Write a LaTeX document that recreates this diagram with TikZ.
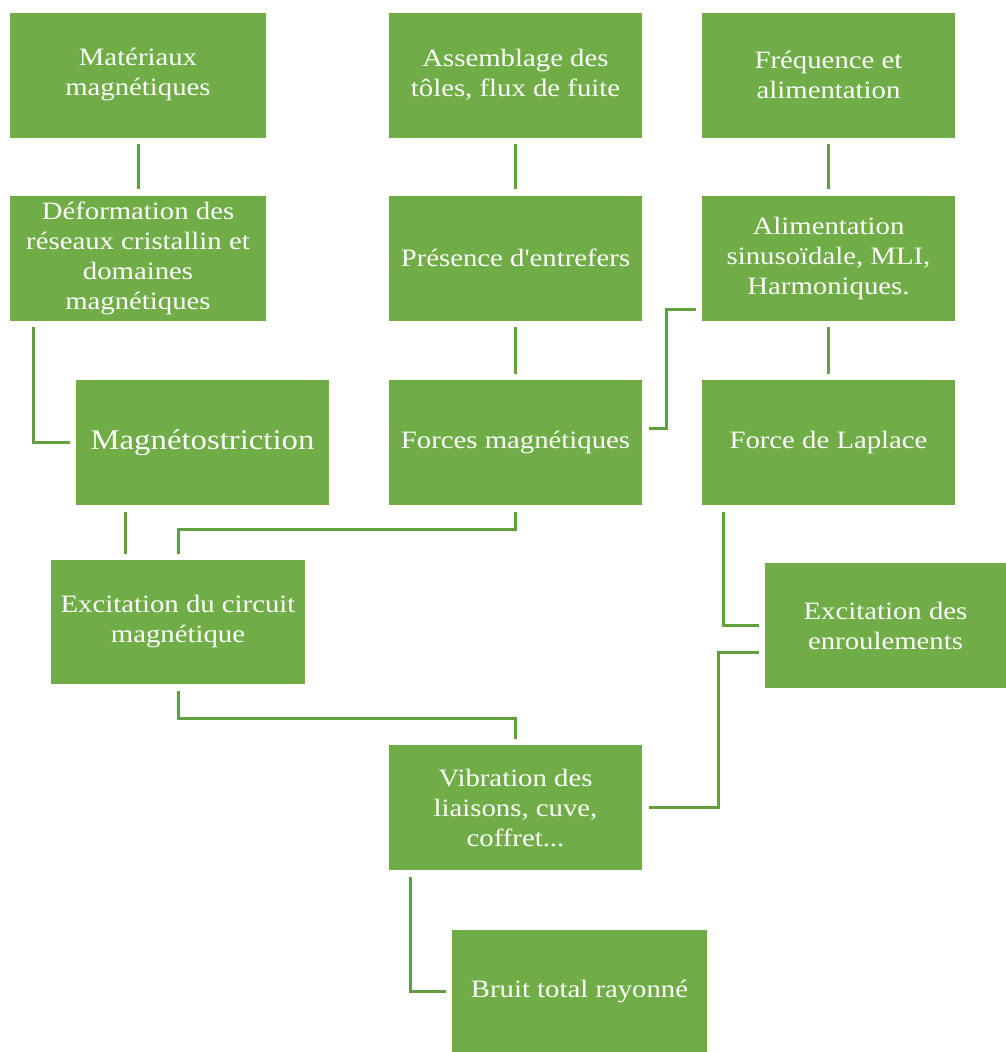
\documentclass[tikz,border=0pt]{standalone}
\usepackage{fontspec}
\setmainfont{Liberation Serif}[FakeStretch=1.15, Ligatures=TeXOff]
\definecolor{boxgreen}{HTML}{70AD47}
\definecolor{linegreen}{HTML}{62A03F}
\begin{document}
\begin{tikzpicture}[x=1pt, y=-1pt, line width=3pt, draw=linegreen, shorten >=5pt, shorten <=5pt,
  bloc/.style={rectangle, fill=boxgreen, text=white, align=center, inner sep=0pt, minimum width=253pt, minimum height=125pt, font=\fontsize{25}{30}\selectfont}]
\useasboundingbox (0,0) rectangle (1006,1052);
% first row: causes
\node [bloc, minimum width=256pt] (mat) at (138,75) {Matériaux\\magnétiques};
\node [bloc] (asm) at (515.5,75) {Assemblage des\\tôles, flux de fuite};
\node [bloc] (freq) at (828.5,75) {Fréquence et\\alimentation};
% second row
\node [bloc, minimum width=256pt] (defo) at (138,258) {Déformation des\\réseaux cristallin et\\domaines\\magnétiques};
\node [bloc] (entre) at (515.5,258) {Présence d'entrefers};
\node [bloc] (alim) at (828.5,258) {Alimentation\\sinusoïdale, MLI,\\Harmoniques.};
% third row: phenomena
\node [bloc, font=\fontsize{28.5}{32}\selectfont] (magneto) at (202.5,442.5) {Magnétostriction};
\node [bloc] (forces) at (515.5,442.5) {Forces magnétiques};
\node [bloc] (laplace) at (828.5,442.5) {Force de Laplace};
% excitations
\node [bloc, minimum width=254pt, minimum height=124pt] (excirc) at (178,622) {Excitation du circuit\\magnétique};
\node [bloc, minimum width=241pt] (exenr) at (885.5,625.5) {Excitation des\\enroulements};
% result
\node [bloc] (vib) at (515.5,807.5) {Vibration des\\liaisons, cuve,\\coffret...};
\node [bloc, minimum width=255pt, minimum height=122pt] (bruit) at (579.5,991) {Bruit total rayonné};
\path [draw=linegreen]
    (mat) edge (defo)
    (asm) edge (entre)
    (entre) edge (forces)
    (freq) edge (alim)
    (alim) edge (laplace)
    ;
\draw [linegreen] ([xshift=25pt]defo.south west) |- (magneto.west);
\draw [linegreen] ([yshift=13pt]alim.south west) -- ++(-34,0) |- ([yshift=14pt]forces.east);
\draw [linegreen] ([xshift=51pt]magneto.south west) -- ([xshift=51pt]magneto.south west |- excirc.north);
\draw [linegreen] (forces.south) -- ++(0,23) -| (excirc.north);
\draw [linegreen] ([xshift=23pt]laplace.south west) |- (exenr.west);
\draw [linegreen] (excirc.south) -- ++(0,33) -| (vib.north);
\draw [linegreen] ([yshift=-27pt]exenr.west) -- ++(-45,0) |- (vib.east);
\draw [linegreen] ([xshift=23pt]vib.south west) |- (bruit.west);
\end{tikzpicture}
\end{document}
